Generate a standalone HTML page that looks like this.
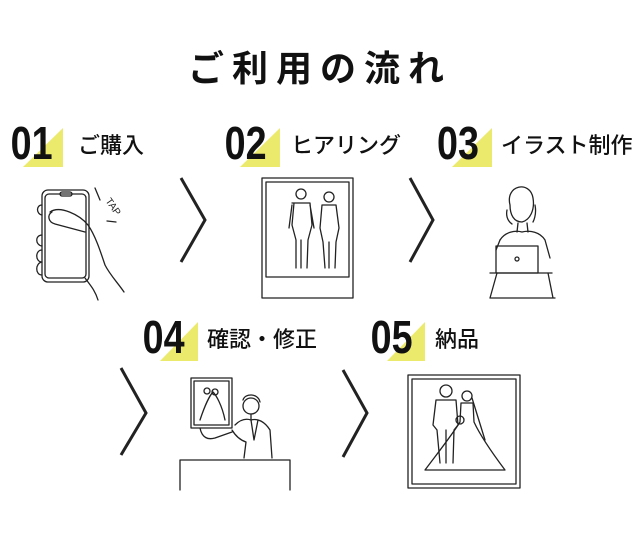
<!DOCTYPE html>
<html><head><meta charset="utf-8"><style>
html,body{margin:0;padding:0;background:#fff;}
svg{display:block}
.n{font-family:"Liberation Sans",sans-serif;font-weight:bold;font-size:46px;fill:#111;}
.j{font-family:"Liberation Sans","Noto Sans CJK JP",sans-serif;font-size:22px;fill:#111;font-weight:500}
.l{fill:none;stroke:#222;stroke-width:1.3;stroke-linecap:round;stroke-linejoin:round}
</style></head><body>
<svg width="640" height="533" viewBox="0 0 640 533">
<text x="320" y="81" text-anchor="middle" font-family="'Liberation Sans','Noto Sans CJK JP',sans-serif" font-size="36" font-weight="bold" letter-spacing="8" fill="#111">ご利用の流れ</text>

<g fill="#ecea6c">
<polygon points="23,167 63,167 63,128"/>
<polygon points="240,167 280,167 280,128"/>
<polygon points="452,167 492,167 492,128"/>
<polygon points="160,361 198,361 198,322"/>
<polygon points="387,361 425,361 425,322"/>
</g>
<g class="n" transform="scale(0.82,1)">
<text x="13" y="159">01</text>
<text x="274" y="159">02</text>
<text x="533" y="159">03</text>
<text x="174" y="353">04</text>
<text x="452" y="353">05</text>
</g>
<text class="j" x="78" y="153">ご購入</text>
<text class="j" x="291" y="153">ヒアリング</text>
<text class="j" x="501" y="153">イラスト制作</text>
<text class="j" x="207" y="347">確認・修正</text>
<text class="j" x="435" y="347">納品</text>

<g fill="none" stroke="#222" stroke-width="3">
<polyline points="181,178 205,220 181,262"/>
<polyline points="410,178 433,220 410,262"/>
<polyline points="121,368 146,413 121,455"/>
<polyline points="343,370 367,413 343,457"/>
</g>

<g class="l">
<rect x="42" y="190" width="47" height="92" rx="6"/>
<rect x="45" y="194" width="41" height="84" rx="4"/>
<rect x="60" y="192" width="12" height="4" rx="2"/>
<path d="M50,212 C60,205 80,215 88,225 C95,235 100,250 105,265 C110,275 118,283 124,292"/>
<path d="M52,212 C47,215 48,222 55,224 L85,232"/>
<path d="M42,205 C36,205 36,214 42,215 M42,235 C35,235 35,245 42,246 M42,250 C35,250 35,262 42,262 M42,262 C35,263 35,275 42,275"/>
<path d="M85,278 C90,285 95,290 98,300"/>
<path d="M95,188 L100,200 M107,221 L116,222"/>
</g>
<text x="103" y="205" font-family="'Liberation Sans',sans-serif" font-size="10" transform="rotate(55 108 205)" fill="#222">TAP</text>

<g class="l">
<rect x="262" y="178" width="91" height="120"/>
<rect x="266" y="182" width="83" height="95"/>
<circle cx="301" cy="194" r="5"/>
<path d="M292,203 L310,203 L312,225 L308,240 L307,268 M294,203 L292,225 L296,240 L296,268 M301,240 L301,268 M292,205 L289,228 M310,205 L314,228"/>
<circle cx="329" cy="197" r="5"/>
<path d="M322,205 L336,205 L339,228 L336,242 L335,268 M322,205 L320,228 L323,242 L325,268 M329,242 L329,268"/>
</g>

<g class="l">
<path d="M510,205 C505,185 530,180 533,198 C535,210 530,220 522,222 C514,222 510,215 510,205 Z"/>
<path d="M507,210 C505,220 512,224 512,224 M535,205 C537,215 533,222 533,222"/>
<path d="M518,223 L517,232 M527,223 L528,232"/>
<path d="M500,240 C505,232 515,230 522,232 C530,230 540,232 545,240 L550,258"/>
<path d="M496,250 L500,240"/>
<rect x="496" y="246" width="42" height="27"/>
<path d="M490,273 L552,273"/>
<path d="M497,273 L490,298 M548,273 L553,298 M490,298 L555,298"/>
<circle cx="517" cy="259" r="2"/>
</g>

<g class="l">
<rect x="191" y="378" width="41" height="50"/>
<rect x="194" y="381" width="35" height="44"/>
<path d="M200,420 C205,405 210,395 213,392 C216,395 222,405 225,420"/>
<circle cx="207" cy="391" r="3"/><circle cx="215" cy="392" r="3"/>
<circle cx="251" cy="406" r="8"/>
<path d="M243,400 C245,393 258,393 260,402"/>
<path d="M251,414 L251,420 M235,425 C240,420 245,418 251,420 C258,418 265,422 270,430 L272,458"/>
<path d="M200,428 C202,438 208,440 215,438 L232,432 M232,430 C235,435 240,440 246,442 L244,458"/>
<path d="M251,420 L254,440 L258,420"/>
<path d="M180,490 L180,460 L290,460 L290,490"/>
</g>

<g class="l">
<rect x="408" y="375" width="112" height="113"/>
<rect x="412" y="379" width="104" height="105"/>
<circle cx="446" cy="391" r="6"/>
<path d="M436,400 L456,400 L458,425 L454,430 L453,463 M436,400 L433,425 L437,430 L440,463 M446,430 L446,463"/>
<circle cx="467" cy="396" r="5"/>
<path d="M461,403 L473,403 L474,422 C480,435 490,450 505,470 L425,470 C440,450 452,435 460,422 Z"/>
<circle cx="460" cy="420" r="4"/>
<path d="M472,398 L485,440"/>
</g>
</svg>
</body></html>
